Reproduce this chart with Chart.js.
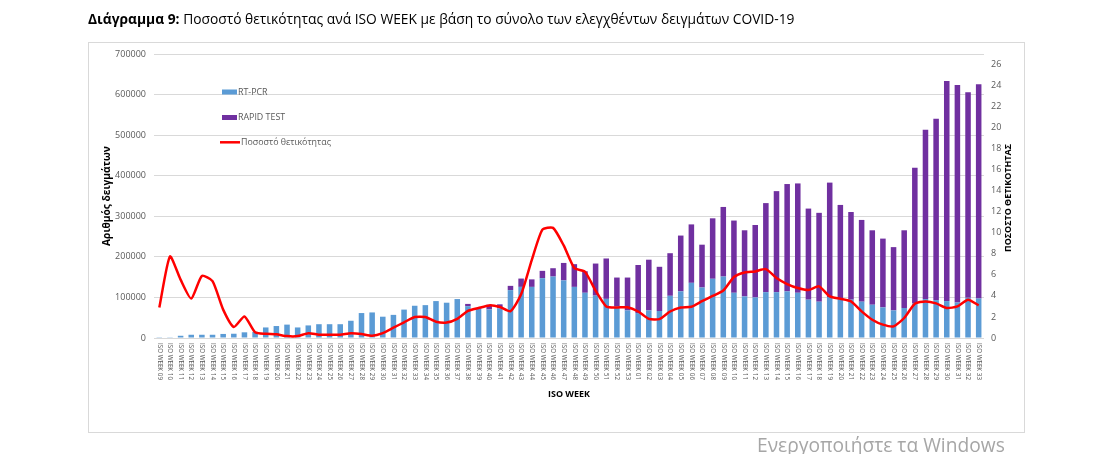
<!DOCTYPE html>
<html><head><meta charset="utf-8">
<script src="https://cdn.jsdelivr.net/npm/chart.js@4.4.1/dist/chart.umd.min.js"></script>
<style>html,body{margin:0;padding:0;background:#fff}</style>
</head><body>
<canvas id="c" width="1108" height="454"></canvas>
<script>
const weeks = [
 "ISO WEEK 09","ISO WEEK 10","ISO WEEK 11","ISO WEEK 12","ISO WEEK 13","ISO WEEK 14","ISO WEEK 15","ISO WEEK 16","ISO WEEK 17","ISO WEEK 18",
 "ISO WEEK 19","ISO WEEK 20","ISO WEEK 21","ISO WEEK 22","ISO WEEK 23","ISO WEEK 24","ISO WEEK 25","ISO WEEK 26","ISO WEEK 27","ISO WEEK 28",
 "ISO WEEK 29","ISO WEEK 30","ISO WEEK 31","ISO WEEK 32","ISO WEEK 33","ISO WEEK 34","ISO WEEK 35","ISO WEEK 36","ISO WEEK 37","ISO WEEK 38",
 "ISO WEEK 39","ISO WEEK 40","ISO WEEK 41","ISO WEEK 42","ISO WEEK 43","ISO WEEK 44","ISO WEEK 45","ISO WEEK 46","ISO WEEK 47","ISO WEEK 48",
 "ISO WEEK 49","ISO WEEK 50","ISO WEEK 51","ISO WEEK 52","ISO WEEK 53",
 "ISO WEEK 01","ISO WEEK 02","ISO WEEK 03","ISO WEEK 04","ISO WEEK 05","ISO WEEK 06","ISO WEEK 07","ISO WEEK 08","ISO WEEK 09","ISO WEEK 10",
 "ISO WEEK 11","ISO WEEK 12","ISO WEEK 13","ISO WEEK 14","ISO WEEK 15","ISO WEEK 16","ISO WEEK 17","ISO WEEK 18","ISO WEEK 19","ISO WEEK 20",
 "ISO WEEK 21","ISO WEEK 22","ISO WEEK 23","ISO WEEK 24","ISO WEEK 25","ISO WEEK 26","ISO WEEK 27","ISO WEEK 28","ISO WEEK 29","ISO WEEK 30",
 "ISO WEEK 31","ISO WEEK 32","ISO WEEK 33"
];
const rtPcr = [
 600,1800,5500,8000,8000,8000,10000,10500,14000,15000,
 26000,29500,33000,26000,31000,34000,34000,34000,42500,61500,
 63000,52500,57000,70000,79500,81000,91000,87000,96000,78500,
 73000,70500,73000,118000,126000,126000,147500,151500,142000,126000,
 111500,104500,96500,78000,68000,
 61500,68000,66500,104000,115000,136000,124500,146000,151500,111500,
 102500,100000,113000,113000,115000,111500,94500,89500,101000,96500,
 94500,89500,82000,75500,68000,74000,85000,96000,93500,91000,
 87500,99000,97500
];
const rapidTest = [
 0,0,0,0,0,0,0,0,0,0,
 0,0,0,0,0,0,0,0,0,0,
 0,0,0,0,0,0,0,0,0,5500,
 1000,11500,10000,10500,20500,18500,18000,20500,43000,56000,
 53000,79000,99500,71000,81000,
 118500,125000,109000,105000,137500,144000,105500,149000,171500,178000,
 163000,178500,219500,249000,264500,269500,224500,219000,282000,231500,
 216000,201500,183500,169500,156000,191500,334500,417000,447000,542500,
 536000,506500,528000
];
const positivity = [
 2.9,7.75,5.55,3.75,5.9,5.4,2.7,1.05,2.05,0.55,
 0.4,0.35,0.18,0.18,0.45,0.32,0.32,0.32,0.45,0.38,
 0.22,0.47,0.98,1.49,1.99,1.99,1.55,1.47,1.82,2.57,
 2.85,3.1,2.95,2.55,4.15,7.4,10.3,10.47,8.8,6.65,
 6.3,4.5,3.0,2.9,2.92,
 2.52,1.82,1.8,2.52,2.9,2.97,3.5,4.0,4.52,5.8,
 6.23,6.33,6.55,5.7,5.13,4.75,4.56,4.91,3.96,3.73,
 3.48,2.53,1.74,1.27,1.11,1.9,3.26,3.48,3.29,2.85,
 3.0,3.64,3.10
];
const leftAxis = {min: 0, max: 700000, step: 100000};
const rightAxis = {min: 0, max: 27, step: 2, lastLabel: 26};
const seriesNames = ["RT-PCR", "RAPID TEST", "Ποσοστό θετικότητας"];
const titleBold = "Διάγραμμα 9:";
const titleRest = " Ποσοστό θετικότητας ανά ISO WEEK με βάση το σύνολο των ελεγχθέντων δειγμάτων COVID-19";
const yTitle = "Αριθμός δειγμάτων";
const y1Title = "ΠΟΣΟΣΤΟ ΘΕΤΙΚΟΤΗΤΑΣ";
const xTitle = "ISO WEEK";
const watermark = "Ενεργοποιήστε τα Windows";

const BLUE = "#5B9BD5", PURPLE = "#7030A0", RED = "#FF0000", GREY = "#595959";
const FAM = "'Open Sans', sans-serif";

function fitSize(ctx, text, target, weight) {
  ctx.font = weight + " 100px " + FAM;
  return 100 * target / ctx.measureText(text).width;
}

const decor = {
  id: "decor",
  beforeDraw(chart) {
    const ctx = chart.ctx;
    ctx.save();
    ctx.fillStyle = "#fff";
    ctx.fillRect(0, 0, chart.width, chart.height);
    ctx.restore();
  },
  afterDraw(chart) {
    const ctx = chart.ctx;
    const ca = chart.chartArea;
    const xs = chart.scales.x;
    ctx.save();
    ctx.strokeStyle = "#d9d9d9";
    ctx.lineWidth = 1;
    ctx.strokeRect(88.5, 42.5, 936, 390);
    // title
    ctx.fillStyle = "#000";
    ctx.textBaseline = "middle";
    ctx.textAlign = "left";
    ctx.font = "bold 100px " + FAM;
    const wb = ctx.measureText(titleBold).width;
    ctx.font = "100px " + FAM;
    const wr = ctx.measureText(titleRest).width;
    const ts = 100 * 707 / (wb + wr);
    ctx.font = "bold " + ts + "px " + FAM;
    ctx.fillText(titleBold, 88, 20);
    ctx.font = ts + "px " + FAM;
    ctx.fillText(titleRest, 88 + wb * ts / 100, 20);
    // x tick labels (rotated clockwise)
    ctx.fillStyle = GREY;
    const ls = fitSize(ctx, "ISO WEEK 09", 37, "normal");
    ctx.font = ls + "px " + FAM;
    weeks.forEach((w, i) => {
      const x = xs.getPixelForValue(i);
      ctx.save();
      ctx.translate(x, ca.bottom + 5);
      ctx.rotate(Math.PI / 2);
      ctx.fillText(w, 0, 0);
      ctx.restore();
    });
    // axis titles
    ctx.fillStyle = "#000";
    ctx.textAlign = "center";
    let s = fitSize(ctx, xTitle, 42, "bold");
    ctx.font = "bold " + s + "px " + FAM;
    ctx.fillText(xTitle, (ca.left + ca.right) / 2, 394);
    s = fitSize(ctx, yTitle, 100, "bold");
    ctx.font = "bold " + s + "px " + FAM;
    ctx.save(); ctx.translate(107, (ca.top + ca.bottom) / 2); ctx.rotate(-Math.PI / 2);
    ctx.fillText(yTitle, 0, 0); ctx.restore();
    s = fitSize(ctx, y1Title, 108, "bold");
    ctx.font = "bold " + s + "px " + FAM;
    ctx.save(); ctx.translate(1008, 198); ctx.rotate(-Math.PI / 2);
    ctx.fillText(y1Title, 0, 0); ctx.restore();
    // legend
    ctx.textAlign = "left";
    s = fitSize(ctx, seriesNames[2], 90, "normal");
    ctx.font = s + "px " + FAM;
    ctx.fillStyle = BLUE; ctx.fillRect(222, 89.5, 15, 5);
    ctx.fillStyle = PURPLE; ctx.fillRect(222, 115, 15, 5);
    ctx.strokeStyle = RED; ctx.lineWidth = 2.5;
    ctx.beginPath(); ctx.moveTo(220, 142.3); ctx.lineTo(240, 142.3); ctx.stroke();
    ctx.fillStyle = GREY;
    ctx.fillText(seriesNames[0], 238, 92.3);
    ctx.fillText(seriesNames[1], 238, 117.5);
    ctx.fillText(seriesNames[2], 241, 142.3);
    // watermark
    s = fitSize(ctx, watermark, 248, "normal");
    ctx.font = s + "px " + FAM;
    ctx.fillStyle = "#a6a6a6";
    ctx.textBaseline = "alphabetic";
    ctx.fillText(watermark, 757, 452);
    ctx.restore();
  }
};

new Chart(document.getElementById("c"), {
  type: "bar",
  data: {
    labels: weeks,
    datasets: [
      {label: seriesNames[0], data: rtPcr, backgroundColor: BLUE, yAxisID: "y", order: 1,
       categoryPercentage: 1, barPercentage: 0.52},
      {label: seriesNames[1], data: rapidTest, backgroundColor: PURPLE, yAxisID: "y", order: 1,
       categoryPercentage: 1, barPercentage: 0.52},
      {label: seriesNames[2], data: positivity, type: "line", yAxisID: "y1", order: 0,
       borderColor: RED, backgroundColor: RED, borderWidth: 2.5, pointRadius: 0, tension: 0.2, fill: false}
    ]
  },
  options: {
    responsive: false,
    animation: false,
    devicePixelRatio: 1,
    layout: {padding: {top: 54, bottom: 0, left: 0, right: 0}},
    plugins: {legend: {display: false}, title: {display: false}, tooltip: {enabled: false}},
    scales: {
      x: {
        stacked: true,
        grid: {display: false},
        border: {display: false},
        ticks: {display: false},
        afterFit(scale) { scale.height = 454 - 338; }
      },
      y: {
        stacked: true,
        position: "left",
        min: leftAxis.min, max: leftAxis.max,
        grid: {color: "#d9d9d9", drawTicks: false},
        border: {display: false},
        ticks: {stepSize: leftAxis.step, padding: 8, color: GREY, font: {family: FAM, size: 9},
                callback: v => String(v)},
        afterFit(scale) { scale.width = 154; }
      },
      y1: {
        stacked: false,
        position: "right",
        min: rightAxis.min, max: rightAxis.max,
        grid: {display: false, drawTicks: false},
        border: {display: false},
        ticks: {stepSize: rightAxis.step, padding: 7, color: GREY, font: {family: FAM, size: 9}},
        afterBuildTicks(scale) { scale.ticks = scale.ticks.filter(t => t.value <= rightAxis.lastLabel); },
        afterFit(scale) { scale.width = 1108 - 984; }
      }
    }
  },
  plugins: [decor]
});
</script>
</body></html>
